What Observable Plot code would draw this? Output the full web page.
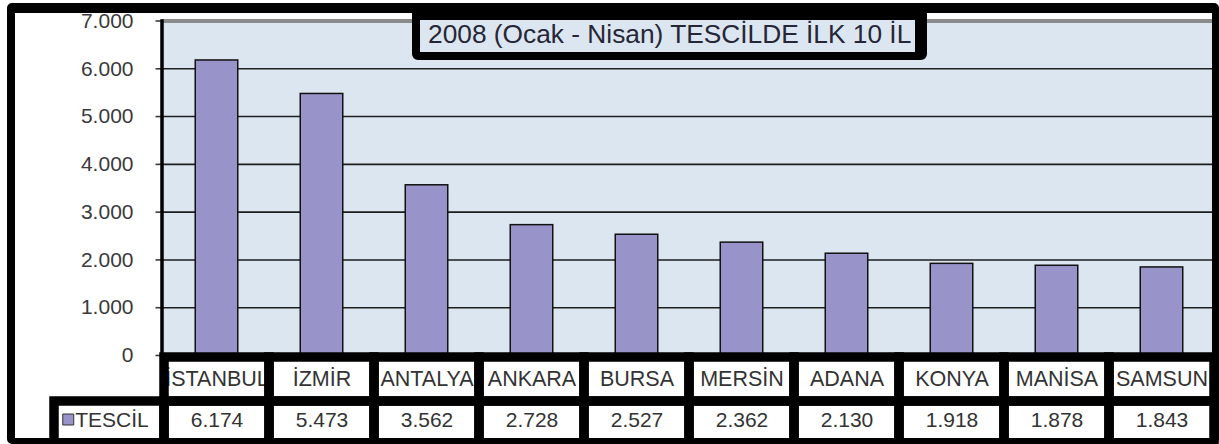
<!DOCTYPE html>
<html>
<head>
<meta charset="utf-8">
<script src="https://cdn.jsdelivr.net/npm/d3@7"></script>
<script src="https://cdn.jsdelivr.net/npm/@observablehq/plot@0.6"></script>
<style>
html, body { margin: 0; padding: 0; background: #fff; }
#wrap { position: relative; width: 1219px; height: 444px; overflow: hidden; font-family: Arial, "Liberation Sans", sans-serif; }
#wrap svg { position: absolute; left: 0; }
#outer { position: absolute; left: 7px; top: 3px; width: 1212px; height: 441px; box-sizing: border-box; border-style: solid; border-color: #000; border-width: 10px 7px 6px 8px; border-radius: 5px; pointer-events: none; z-index: 5; }
#title { position: absolute; left: 412px; top: 3px; width: 515px; height: 57px; box-sizing: border-box; border-style: solid; border-color: #000; border-width: 17px 12px 8px 8px; border-radius: 0 0 6px 6px; background: #dce6f0; z-index: 6; font-size: 26.3px; line-height: 28px; color: #262636; padding-left: 8px; white-space: nowrap; overflow: hidden; }
</style>
</head>
<body>
<div id="wrap">
  <div id="title">2008 (Ocak - Nisan) TESCİLDE İLK 10 İL</div>
  <div id="outer"></div>
</div>
<script>
// ---- data ----
const cities = ["İSTANBUL", "İZMİR", "ANTALYA", "ANKARA", "BURSA", "MERSİN", "ADANA", "KONYA", "MANİSA", "SAMSUN"];
const values = [6174, 5473, 3562, 2728, 2527, 2362, 2130, 1918, 1878, 1843];
const yTicks = [0, 1000, 2000, 3000, 4000, 5000, 6000, 7000];
const yTickLabels = ["0", "1.000", "2.000", "3.000", "4.000", "5.000", "6.000", "7.000"];
const seriesName = "TESCİL";
const legendKey = "__legend";

const fmt = d3.formatLocale({decimal: ",", thousands: ".", grouping: [3], currency: ["", ""]}).format(",d");
const bars = cities.map((c, i) => ({city: c, value: values[i]}));
const gridTicks = yTicks.slice(1, -1);
const topTick = [yTicks[yTicks.length - 1]];

const font = "Arial, 'Liberation Sans', sans-serif";
const barColor = "#9894ca";

// ---- main bar chart ----
const main = Plot.plot({
  width: 1219,
  height: 357,
  marginLeft: 161.5,
  marginRight: 2.5,
  marginTop: 20.5,
  marginBottom: 2,
  style: {fontFamily: font, background: "transparent", overflow: "visible"},
  x: {domain: cities, padding: 0, axis: null},
  y: {domain: [0, 7000]},
  marks: [
    Plot.frame({fill: "#dce6f0", stroke: "none"}),
    Plot.ruleY(gridTicks, {stroke: "#1e1e1e", strokeWidth: 1.6}),
    Plot.ruleY(topTick, {stroke: "#8c8c8c", strokeWidth: 4}),
    Plot.barY(bars, {x: "city", y: "value", fill: barColor, stroke: "#111", strokeWidth: 1.5, insetLeft: 31.25, insetRight: 31.25}),
    Plot.ruleY([0], {stroke: "#000", strokeWidth: 3}),
    Plot.axisY({ticks: yTicks, tickFormat: d => yTickLabels[yTicks.indexOf(d)], tickSize: 6, tickPadding: 22.5, fontSize: 21, color: "#3a3a3a", strokeWidth: 1.6, label: null}),
    Plot.frame({anchor: "left", stroke: "#000", strokeWidth: 3.5})
  ]
});
main.style.top = "0px";

// ---- data table ----
const catRow = cities.map(c => ({col: c, row: "cat", label: c}));
const valRow = cities.map((c, i) => ({col: c, row: "val", label: fmt(values[i])}));
const cityCells = catRow.concat(valRow);
const legendCell = [{col: legendKey, row: "val", label: seriesName}];

const table = Plot.plot({
  width: 1219,
  height: 87,
  margin: 0,
  style: {fontFamily: font, background: "transparent", overflow: "visible"},
  x: {domain: [legendKey, ...cities], range: [56, 1216.5], padding: 0, axis: null},
  y: {domain: ["cat", "val"], range: [0, 88], padding: 0, axis: null},
  marks: [
    Plot.cell(cityCells, {x: "col", y: "row", fill: "#fff"}),
    Plot.cell(legendCell, {x: "col", y: "row", fill: "#fff", insetLeft: -5}),
    Plot.text(catRow, {x: "col", y: "row", text: "label", fontSize: 21.5, fill: "#333"}),
    Plot.text(valRow, {x: "col", y: "row", text: "label", fontSize: 21, fill: "#333", dy: -3}),
    Plot.text(legendCell, {x: "col", y: "row", text: "label", fontSize: 21, fill: "#333", dy: -3}),
    Plot.dot(legendCell, {x: "col", y: "row", symbol: "square", r: 6.2, fill: barColor, stroke: "#333", strokeWidth: 1, dx: -43.75, dy: -4}),
    Plot.cell(cityCells, {x: "col", y: "row", fill: "none", stroke: "#000", strokeWidth: 9.5}),
    Plot.cell(legendCell, {x: "col", y: "row", fill: "none", stroke: "#000", strokeWidth: 9.5, insetLeft: -5})
  ]
});
table.style.top = "357px";

const wrap = document.getElementById("wrap");
wrap.insertBefore(table, wrap.firstChild);
wrap.insertBefore(main, wrap.firstChild);
</script>
</body>
</html>
